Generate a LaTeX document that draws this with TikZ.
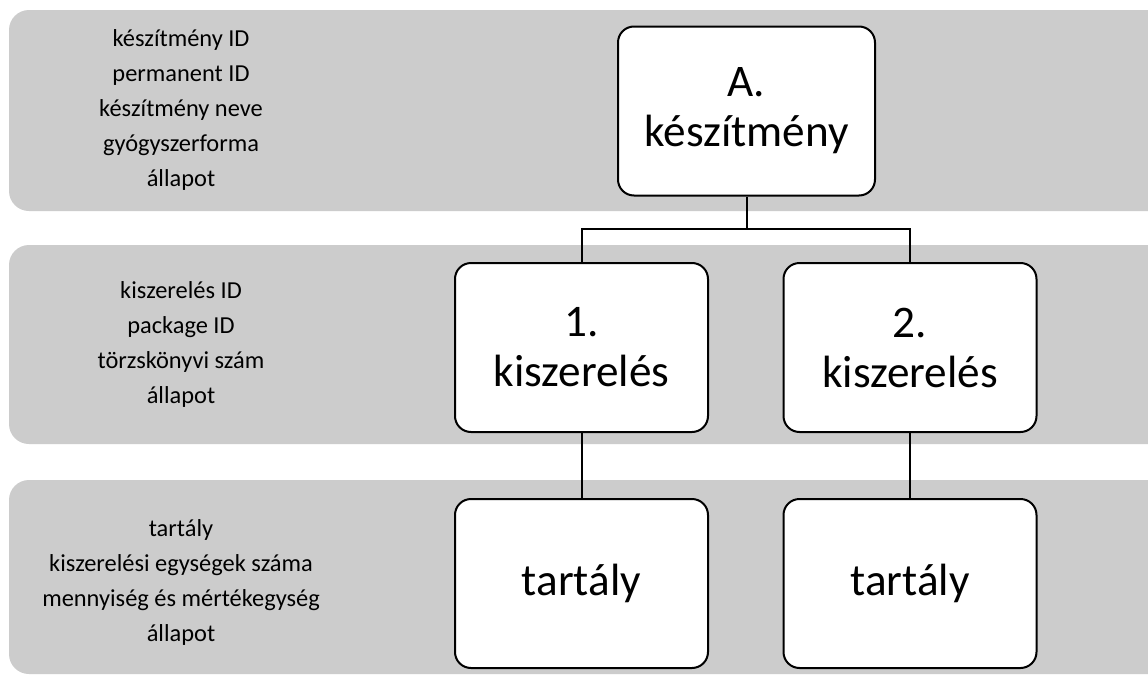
\documentclass[tikz,border=0pt]{standalone}
\usepackage{fontspec}
\setmainfont{Carlito}
\definecolor{bandgray}{RGB}{204,204,204}
\begin{document}
\begin{tikzpicture}[x=0.5pt,y=-0.5pt,
  band/.style={fill=bandgray, rounded corners=10pt},
  box/.style={draw=black, line width=1pt, fill=white, rounded corners=8pt,
    minimum width=126.5pt, minimum height=84.5pt, inner sep=0pt, align=center,
    font=\fontsize{22.6}{25}\selectfont},
  lbl/.style={align=center, inner sep=0pt, font=\fontsize{12.2}{17.5}\selectfont},
  conn/.style={draw=black, line width=1pt}]
\clip (0,0) rectangle (1148,675);
\fill[white] (0,0) rectangle (1148,675);
% bands
\path[band] (9,10) rectangle (1170,211);
\path[band] (9,245) rectangle (1170,444);
\path[band] (9,480) rectangle (1170,674);
% left labels
\node[lbl] (l1) at (181,110) {készítmény ID\\permanent ID\\készítmény neve\\gyógyszerforma\\állapot};
\node[lbl] (l2) at (181,344) {kiszerelés ID\\package ID\\törzskönyvi szám\\állapot};
\node[lbl] (l3) at (181,582) {tartály\\kiszerelési egységek száma\\mennyiség és mértékegység\\állapot};
% boxes
\node[box, minimum width=128.5pt] (A) at (746.5,111) {A.\\készítmény};
\node[box] (k1) at (581.5,347.5) {1.\\kiszerelés};
\node[box] (k2) at (910,347.5) {2.\\kiszerelés};
\node[box] (t1) at (581.5,583.5) {tartály};
\node[box] (t2) at (910,583.5) {tartály};
% connectors
\coordinate (j) at (746.5,229);
\draw[conn] (A.south) -- (j);
\draw[conn] (j) -| (k1.north);
\draw[conn] (j) -| (k2.north);
\draw[conn] (k1.south) -- (t1.north);
\draw[conn] (k2.south) -- (t2.north);
\end{tikzpicture}
\end{document}
